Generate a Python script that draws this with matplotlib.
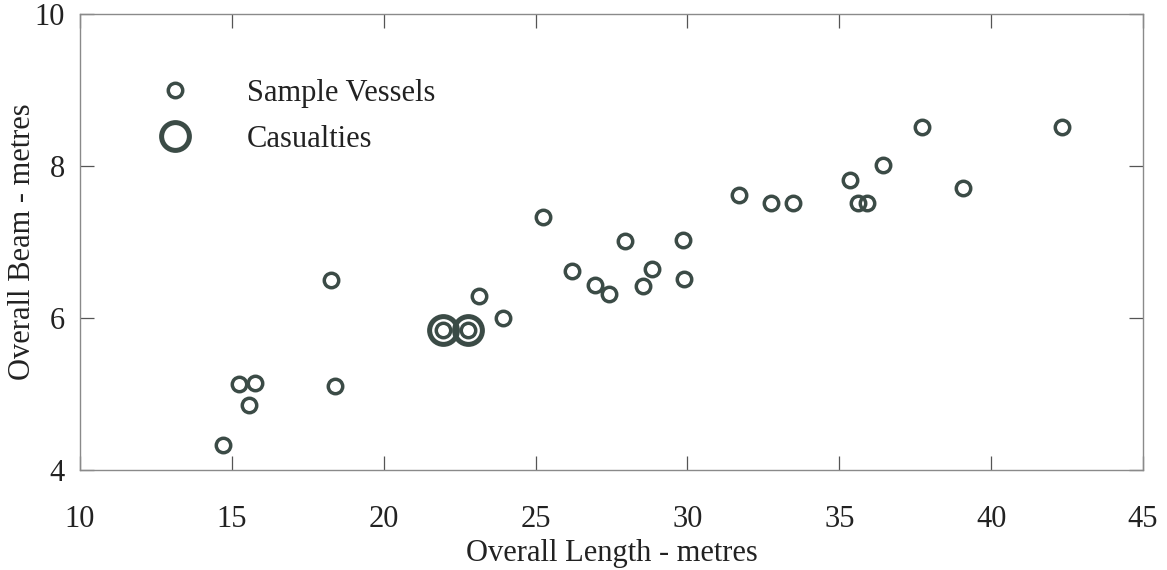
import matplotlib.pyplot as plt

plt.rcParams['font.family'] = ['Liberation Serif', 'DejaVu Serif']

# overall length / beam of the sample vessels (metres)
sample_length = [14.70, 15.25, 15.76, 15.56, 18.25, 18.40, 21.95, 22.78,
                 23.14, 23.93, 25.26, 26.19, 26.94, 27.43, 27.95, 28.53,
                 28.82, 29.87, 29.89, 31.71, 32.74, 33.49, 35.35, 35.63,
                 35.90, 36.43, 37.71, 39.09, 42.35]
sample_beam = [4.33, 5.13, 5.15, 4.86, 6.50, 5.11, 5.84, 5.84,
               6.29, 6.00, 7.33, 6.62, 6.43, 6.32, 7.02, 6.42,
               6.65, 7.03, 6.52, 7.62, 7.52, 7.52, 7.82, 7.52,
               7.52, 8.01, 8.52, 7.71, 8.52]

# casualties
casualty_length = [21.95, 22.78]
casualty_beam = [5.84, 5.84]

ring = '#3b4b46'
txt = '#222222'

fig = plt.figure(figsize=(11.67, 5.70), dpi=100)
ax = fig.add_axes([0.0686, 0.1754, 0.9108, 0.8])

ax.plot(casualty_length, casualty_beam, linestyle='none', marker='o',
        markersize=20, markerfacecolor='none', markeredgecolor=ring,
        markeredgewidth=3.6, label='Casualties')
ax.plot(sample_length, sample_beam, linestyle='none', marker='o',
        markersize=10.4, markerfacecolor='none', markeredgecolor=ring,
        markeredgewidth=2.5, label='Sample Vessels')

ax.set_xlim(10, 45)
ax.set_ylim(4, 10)
ax.set_xticks([10, 15, 20, 25, 30, 35, 40, 45])
ax.set_yticks([4, 6, 8, 10])

for s in ax.spines.values():
    s.set_color('#8a8a8a')
    s.set_linewidth(1.0)

ax.tick_params(axis='both', direction='in', length=10, width=0.9,
               color='#555555', top=True, right=True, labelsize=22,
               labelcolor=txt)
ax.tick_params(axis='x', pad=25)
ax.tick_params(axis='y', pad=11)

ax.set_xlabel('Overall Length - metres', fontsize=22, color=txt, labelpad=4)
ax.set_ylabel('Overall Beam - metres', fontsize=22, color=txt, labelpad=-2)

handles, labels = ax.get_legend_handles_labels()
ax.legend(handles[::-1], labels[::-1], loc='upper left',
          bbox_to_anchor=(0.0494, 0.9185), frameon=False, fontsize=22,
          handlelength=1.0, handletextpad=1.85, labelspacing=0.57,
          numpoints=1, labelcolor=txt)

fig.savefig('out.png', dpi=100)
